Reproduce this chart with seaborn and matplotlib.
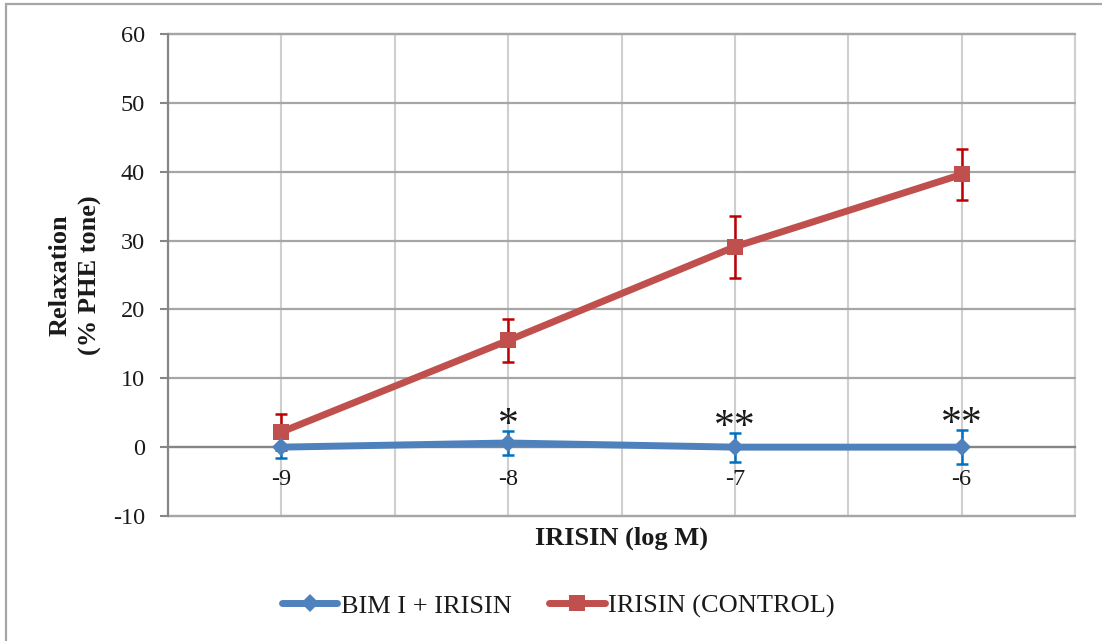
import matplotlib
matplotlib.use("Agg")
import matplotlib.pyplot as plt
from matplotlib.lines import Line2D
from matplotlib.patches import Rectangle
import numpy as np
import pandas as pd
import seaborn as sns

# ---------------- data ----------------
log_conc = [-9, -8, -7, -6]
x_tick_labels = ["-9", "-8", "-7", "-6"]
series_names = ["BIM I + IRISIN", "IRISIN (CONTROL)"]
bim_mean = [0.0, 0.6, 0.0, 0.0]
bim_err = [1.6, 1.8, 2.1, 2.5]
ctrl_mean = [2.2, 15.5, 29.1, 39.6]
ctrl_err = [2.6, 3.1, 4.5, 3.7]
signif = ["", "*", "**", "**"]
y_ticks = [-10, 0, 10, 20, 30, 40, 50, 60]

# ---------------- style ----------------
sns.set_theme(style="white")
plt.rcParams["font.family"] = ["Liberation Serif", "DejaVu Serif"]

BLUE = "#4F81BD"
RED = "#C0504D"
BLUE_ERR = "#0070C0"
RED_ERR = "#C00000"
HGRID = "#A6A6A6"
VGRID = "#CFCFCF"
AXIS = "#868686"
TXT = "#1A1A1A"

W, H = 1102, 641
fig = plt.figure(figsize=(W / 100, H / 100), dpi=100)
ax = fig.add_axes([168 / W, 1 - 516 / H, (1075 - 168) / W, (516 - 34) / H])

df = pd.DataFrame({
    "conc": log_conc * 2,
    "relax": bim_mean + ctrl_mean,
    "series": [series_names[0]] * 4 + [series_names[1]] * 4,
})

# error bars
ax.errorbar(log_conc, ctrl_mean, yerr=ctrl_err, fmt="none", ecolor=RED_ERR,
            elinewidth=1.8, capsize=4.5, capthick=1.8, zorder=3)
ax.errorbar(log_conc, bim_mean, yerr=bim_err, fmt="none", ecolor=BLUE_ERR,
            elinewidth=1.8, capsize=4.5, capthick=1.8, zorder=3)

# lines
sns.lineplot(data=df[df["series"] == series_names[1]], x="conc", y="relax",
             color=RED, marker="s", markersize=12, markeredgewidth=0,
             linewidth=5, legend=False, ax=ax, zorder=4)
sns.lineplot(data=df[df["series"] == series_names[0]], x="conc", y="relax",
             color=BLUE, marker="D", markersize=9.5, markeredgewidth=0,
             linewidth=5, legend=False, ax=ax, zorder=5)

# significance marks
for xv, m, e, s in zip(log_conc, bim_mean, bim_err, signif):
    if s:
        ax.annotate(s, xy=(xv, m + e), xytext=(0, -4), textcoords="offset points",
                    ha="center", va="baseline", fontsize=30, color=TXT, zorder=6)

# axes limits and ticks
ax.set_xlim(-9.5, -5.5)
ax.set_ylim(-10, 60)
ax.set_xticks(log_conc)
ax.set_xticklabels(x_tick_labels)
ax.set_xticks(np.arange(-9.5, -5.4, 1.0), minor=True)
ax.set_yticks(y_ticks)
ax.set_yticklabels([str(v) for v in y_ticks])

ax.tick_params(axis="x", which="major", length=0, pad=16, labelsize=17.5, labelcolor=TXT)
ax.tick_params(axis="x", which="minor", length=6, width=1.5, color=AXIS, direction="out")
ax.tick_params(axis="y", which="major", length=6, width=1.5, color=AXIS, pad=10.5,
               labelsize=17.5, labelcolor=TXT, left=True)

# grid
ax.yaxis.grid(True, color=HGRID, linewidth=1.6)
ax.xaxis.grid(True, which="both", color=VGRID, linewidth=1.5)
ax.set_axisbelow(True)
for gl in ax.get_ygridlines():
    gl.set_clip_on(False)
for gl in ax.xaxis.get_gridlines():
    gl.set_clip_on(False)

# spines
for side in ["top", "right"]:
    ax.spines[side].set_visible(False)
ax.spines["left"].set_color(AXIS)
ax.spines["left"].set_linewidth(1.6)
ax.spines["bottom"].set_position(("data", 0))
ax.spines["bottom"].set_color(AXIS)
ax.spines["bottom"].set_linewidth(1.6)
ax.axvline(-5.5, color=VGRID, linewidth=1.5, clip_on=False, zorder=0.5)
ax.axhline(-10, color=HGRID, linewidth=1.6, clip_on=False, zorder=0.5)
ax.axhline(60, color=HGRID, linewidth=1.6, clip_on=False, zorder=0.5)

# labels
ax.set_xlabel("IRISIN (log M)", fontsize=19, fontweight="bold", color=TXT)
ax.xaxis.set_label_coords(0.5, -0.021)
ax.set_ylabel("Relaxation\n(% PHE tone)", fontsize=19, fontweight="bold", color=TXT,
              multialignment="center", linespacing=1.38)
ax.yaxis.set_label_coords(-0.0728, 0.5)

# legend
handles = [
    Line2D([], [], color=BLUE, lw=5, marker="D", markersize=9, markeredgewidth=0,
           solid_capstyle="round"),
    Line2D([], [], color=RED, lw=5, marker="s", markersize=12, markeredgewidth=0,
           solid_capstyle="round"),
]
fig.legend(handles, series_names, loc="center", bbox_to_anchor=(558.5 / W, 1 - 606 / H),
           ncol=2, frameon=False, fontsize=19, handlelength=2.1, handletextpad=0.15,
           columnspacing=1.4, labelcolor=TXT)

# chart border (top and left visible)
fig.add_artist(Rectangle((6 / W, -0.1), 2, 1 - 4 / H + 0.1, fill=False,
                         edgecolor=HGRID, linewidth=1.6, transform=fig.transFigure))

fig.savefig("out.png", dpi=100, facecolor="white")
